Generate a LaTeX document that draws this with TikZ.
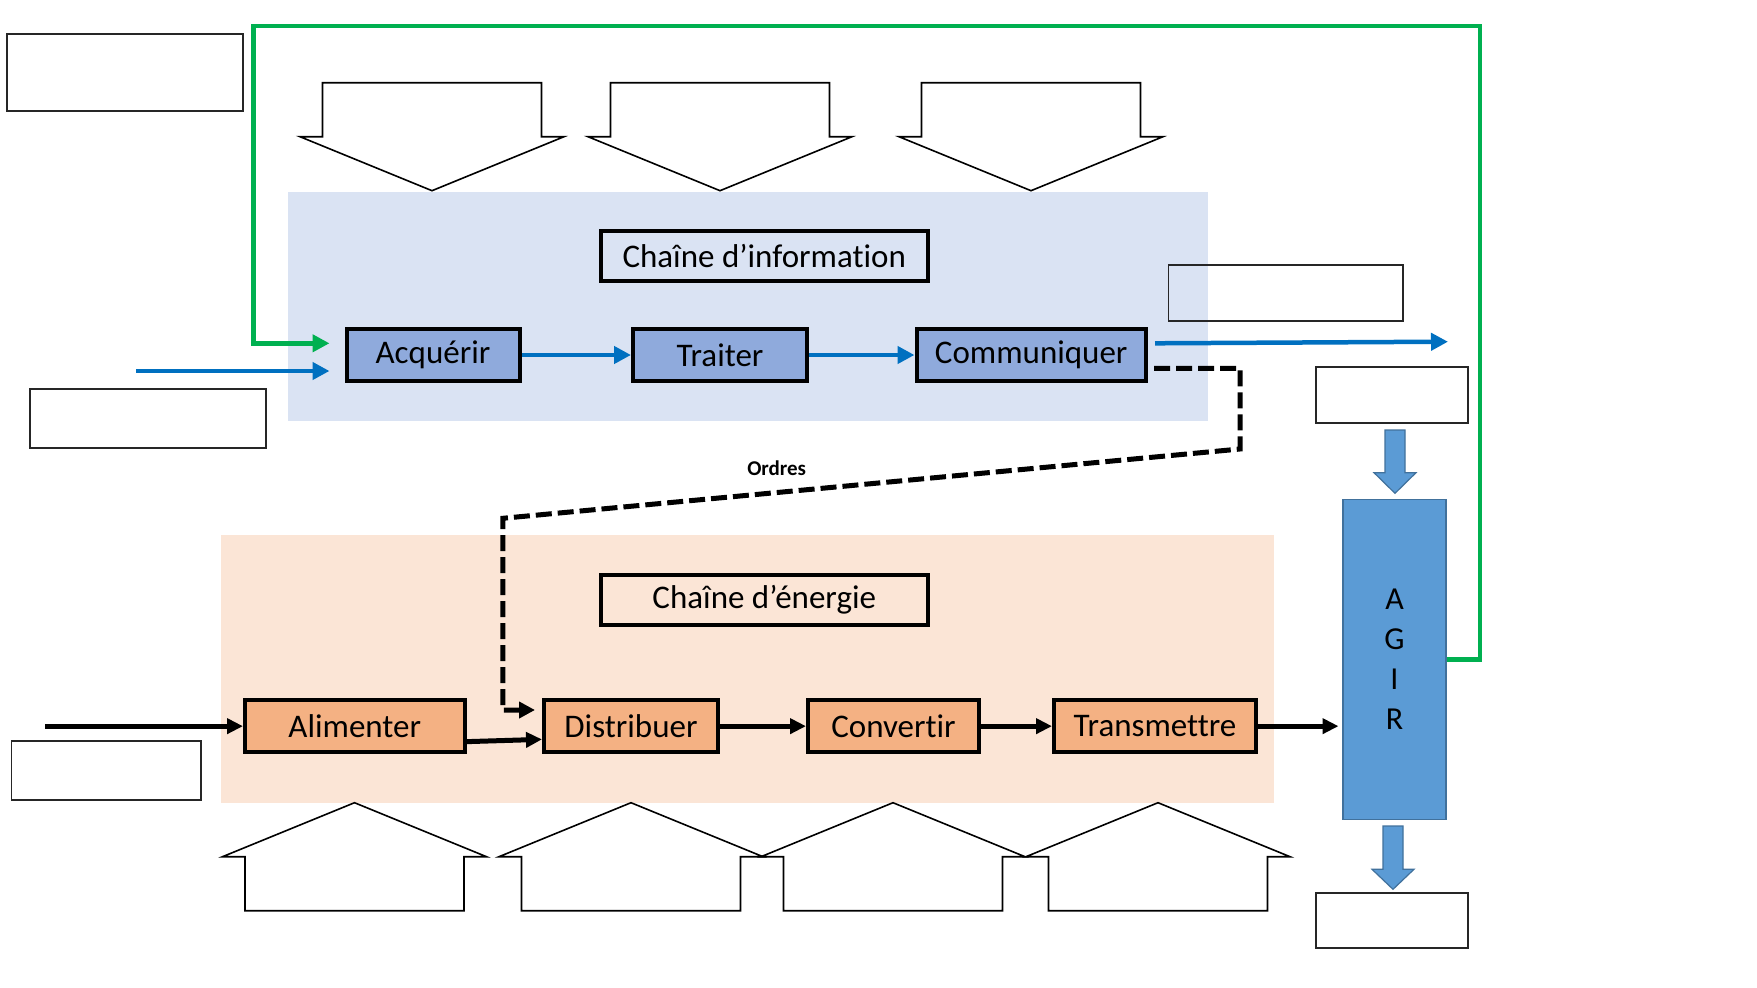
\documentclass[tikz,border=0pt]{standalone}
\usepackage{fontspec}
\setmainfont{Carlito}[Ligatures=NoCommon]
\usetikzlibrary{arrows.meta}
\definecolor{infobg}{HTML}{DAE3F3}
\definecolor{enbg}{HTML}{FBE5D6}
\definecolor{infobox}{HTML}{8FAADC}
\definecolor{enbox}{HTML}{F4B183}
\definecolor{agirc}{HTML}{5B9BD5}
\definecolor{agirb}{HTML}{41719C}
\definecolor{arrblue}{HTML}{0070C0}
\definecolor{arrgreen}{HTML}{00B050}
\newcommand\bigdownarr[1]{\draw[blockarrow] ({#1-109.5},82.7) -- ({#1+109.5},82.7) -- ({#1+109.5},136.7) -- ({#1+132},136.7) -- (#1,190.7) -- ({#1-132},136.7) -- ({#1-109.5},136.7) -- cycle;}
\newcommand\biguparr[1]{\draw[blockarrow] ({#1-109.5},910.7) -- ({#1+109.5},910.7) -- ({#1+109.5},856.7) -- ({#1+132},856.7) -- (#1,802.7) -- ({#1-132},856.7) -- ({#1-109.5},856.7) -- cycle;}
\begin{document}
\begin{tikzpicture}[x=1pt,y=-1pt,
  fbox/.style={draw=black,line width=4pt,inner sep=0pt,font=\fontsize{33}{39}\selectfont},
  infofn/.style={fbox,fill=infobox},
  enfn/.style={fbox,fill=enbox},
  emptybox/.style={draw=black!85,line width=1.8pt,inner sep=0pt},
  blockarrow/.style={draw=black,fill=white,line width=1.6pt,line join=miter},
  bluearr/.style={draw=agirb,fill=agirc,line width=1.2pt},
  bline/.style={draw=arrblue,line width=4.5pt,-{Triangle[length=17pt,width=17pt]}},
  gline/.style={draw=arrgreen,line width=4.5pt,line join=miter,-{Triangle[length=17pt,width=17pt]}},
  kline/.style={draw=black,line width=5pt,-{Triangle[length=16pt,width=15pt]}},
  dline/.style={draw=black,line width=5pt,dash pattern=on 16pt off 6pt,line join=miter,-{Triangle[length=16pt,width=16pt]}},
]
\useasboundingbox (0,0) rectangle (1757,988);
\fill[white] (0,0) rectangle (1757,988);
% panels
\fill[infobg] (288,192) rectangle (1208,420.5);
\fill[enbg] (221,534.5) rectangle (1274,803);
% empty boxes
\node[emptybox,minimum width=236pt,minimum height=77pt] (e1) at (125,72.5) {};
\node[emptybox,minimum width=236pt,minimum height=59.6pt] (e2) at (148,418.5) {};
\node[emptybox,minimum width=234.5pt,minimum height=55.7pt] (e3) at (1285.75,292.85) {};
\node[emptybox,minimum width=152pt,minimum height=56pt] (e4) at (1392,394.7) {};
\node[emptybox,minimum width=189.5pt,minimum height=59pt] (e5) at (106.25,770.5) {};
\node[emptybox,minimum width=152pt,minimum height=55.6pt] (e6) at (1392,920.5) {};
% big block arrows
\bigdownarr{432}
\bigdownarr{720}
\bigdownarr{1031}
\biguparr{354.5}
\biguparr{631}
\biguparr{893}
\biguparr{1158}
% blue small arrows
\draw[bluearr] (1385,430) -- (1405,430) -- (1405,472.7) -- (1416,472.7) -- (1395,493.3) -- (1374,472.7) -- (1385,472.7) -- cycle;
\draw[bluearr] (1383,826) -- (1403,826) -- (1403,869.3) -- (1414,869.3) -- (1393,889.3) -- (1372,869.3) -- (1383,869.3) -- cycle;
% AGIR
\node[draw=agirb,fill=agirc,line width=1.5pt,minimum width=103pt,minimum height=320pt,inner sep=0pt,align=center,font=\fontsize{32}{40}\selectfont] (agir) at (1394.5,659.3) {A\\G\\I\\R};
% titles
\node[fbox,minimum width=326.5pt,minimum height=50.6pt] (tinfo) at (764.25,256) {Chaîne d’information};
\node[fbox,minimum width=326.5pt,minimum height=50.6pt] (tener) at (764.25,600) {Chaîne d’énergie};
% info chain
\node[infofn,minimum width=173pt,minimum height=51.4pt] (acq) at (433,355) {Acquérir};
\node[infofn,minimum width=174pt,minimum height=51.4pt] (trt) at (720,355) {Traiter};
\node[infofn,minimum width=229.5pt,minimum height=51.4pt] (com) at (1031.25,355) {Communiquer};
% energy chain
\node[enfn,minimum width=219.5pt,minimum height=51.7pt] (ali) at (354.75,726.15) {Alimenter};
\node[enfn,minimum width=174pt,minimum height=51.7pt] (dis) at (631,726.15) {Distribuer};
\node[enfn,minimum width=171pt,minimum height=51.7pt] (cnv) at (893.5,726.15) {Convertir};
\node[enfn,minimum width=202pt,minimum height=51.7pt] (trm) at (1155,726.15) {Transmettre};
% label
\node[font=\fontsize{21}{25}\selectfont\bfseries] (ord) at (776.7,468.3) {Ordres};
% free ends
\coordinate (bin0) at (136,371);
\coordinate (bin) at (329.5,371);
\coordinate (gin) at (329.5,343.3);
\coordinate (bout) at (1448,341.7);
\coordinate (kin0) at (45,726.15);
\coordinate (kout) at (1338.5,726.15);
% info connectors
\draw[bline] (bin0) -- (bin);
\draw[bline] (acq.east) -- (trt.west);
\draw[bline] (trt.east) -- (com.west);
\draw[bline] ([xshift=7pt,yshift=11.7pt]com.east) -- (bout);
% green feedback
\draw[gline] (agir.east) -- (1480,659.3) |- (253.5,26) |- (gin);
% dashed orders
\draw[dline] ([xshift=6pt,yshift=-13.3pt]com.east) -- (1240,368.3) -- (1240,449) -- (502.8,518.3) -- (502.8,710) -- ([xshift=-7pt,yshift=16.15pt]dis.west);
% energy connectors
\draw[kline] (kin0) -- (ali.west);
\draw[kline] ([yshift=-15.5pt]ali.east) -- ([yshift=-13.2pt]dis.west);
\draw[kline] (dis.east) -- (cnv.west);
\draw[kline] (cnv.east) -- (trm.west);
\draw[kline] (trm.east) -- (kout);
\end{tikzpicture}
\end{document}
